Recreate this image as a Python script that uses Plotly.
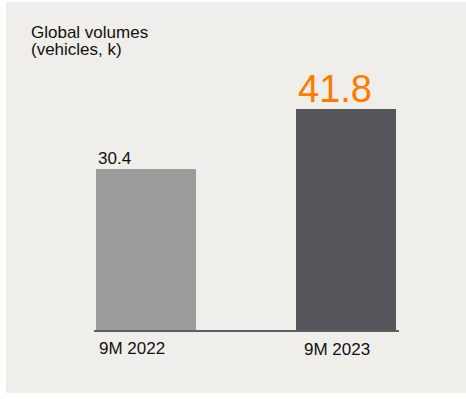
import plotly.graph_objects as go

categories = ["9M 2022", "9M 2023"]
values = [30.4, 41.8]
value_labels = ["30.4", "41.8"]
bar_colors = ["#9b9b9b", "#54565b"]
label_colors = ["#111111", "#ff7a00"]
label_sizes = [17, 38]
title_lines = ["Global volumes", "(vehicles, k)"]

W, H = 466, 399
L, R, T, B = 94, 67, 60, 69
pw, ph = W - L - R, H - T - B

def px_x(p):
    return (p - L) / pw

def px_y(p):
    return (H - B - p) / ph

FONT = "Liberation Sans, Arial, sans-serif"
xs = list(range(len(categories)))

fig = go.Figure()
fig.add_trace(go.Bar(
    x=xs, y=values, width=0.5,
    marker=dict(color=bar_colors, line=dict(width=0)),
    hoverinfo="skip",
))

annotations = []
for i, (v, t, c, s) in enumerate(zip(values, value_labels, label_colors, label_sizes)):
    annotations.append(dict(
        x=i - 0.25, y=v, xref="x", yref="y", text=t, showarrow=False,
        xanchor="left", yanchor="bottom", yshift=-1 if s < 20 else -3,
        font=dict(family=FONT, size=s, color=c),
    ))
for i, cat in enumerate(categories):
    annotations.append(dict(
        x=i - 0.25, y=0, xref="x", yref="y", text=cat, showarrow=False,
        xanchor="left", yanchor="top", xshift=1 + 5 * i, yshift=-7 - i,
        font=dict(family=FONT, size=17, color="#111111"),
    ))
for j, line in enumerate(title_lines):
    annotations.append(dict(
        x=px_x(29), y=px_y(21 + 17 * j), xref="paper", yref="paper", text=line,
        showarrow=False, xanchor="left", yanchor="top",
        font=dict(family=FONT, size=17, color="#111111"),
    ))

fig.update_layout(
    width=W, height=H,
    margin=dict(l=L, r=R, t=T, b=B),
    paper_bgcolor="white", plot_bgcolor="rgba(0,0,0,0)",
    showlegend=False,
    bargap=0,
    xaxis=dict(range=[-0.26, 1.265], showgrid=False, zeroline=False,
               showticklabels=False, ticks="", showline=True,
               linecolor="#5e5e5e", linewidth=1.5, fixedrange=True),
    yaxis=dict(range=[0, ph / 5.29], showgrid=False, zeroline=False,
               showticklabels=False, ticks="", showline=False, fixedrange=True),
    annotations=annotations,
    shapes=[dict(type="rect", xref="paper", yref="paper", layer="below",
                 x0=px_x(6), x1=px_x(466), y0=px_y(393), y1=px_y(2),
                 fillcolor="#f0eeeb", line=dict(width=0))],
)

fig.write_html("out.html", config={"displayModeBar": False},
               post_script="document.body.style.margin='0';")
